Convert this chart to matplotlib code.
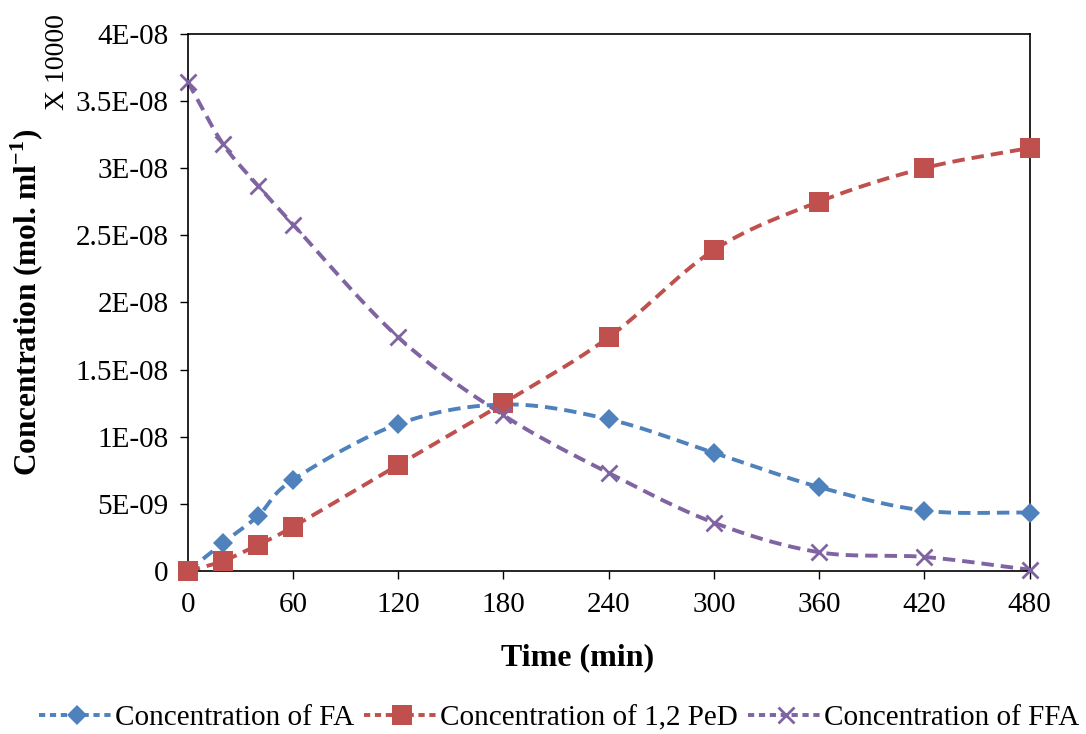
import matplotlib
matplotlib.use("Agg")
import matplotlib.pyplot as plt
from matplotlib.lines import Line2D
import numpy as np

plt.rcParams['font.family'] = ['Liberation Serif', 'DejaVu Serif']
plt.rcParams['mathtext.fontset'] = 'custom'
plt.rcParams['mathtext.rm'] = 'Liberation Serif'
plt.rcParams['mathtext.bf'] = 'Liberation Serif:bold'

# data (mol/ml, already shown as E-08 / E-09)
time_min = [0, 20, 40, 60, 120, 180, 240, 300, 360, 420, 480]
conc_fa = [0.0, 2.1e-9, 4.1e-9, 6.8e-9, 10.95e-9, 12.4e-9, 11.3e-9, 8.8e-9, 6.25e-9, 4.5e-9, 4.35e-9]
conc_ped = [0.0, 0.75e-9, 1.95e-9, 3.3e-9, 7.9e-9, 12.5e-9, 17.4e-9, 23.9e-9, 27.5e-9, 30.0e-9, 31.5e-9]
conc_ffa = [36.4e-9, 31.8e-9, 28.7e-9, 25.8e-9, 17.4e-9, 11.6e-9, 7.3e-9, 3.6e-9, 1.4e-9, 1.05e-9, 0.1e-9]

series_names = ['Concentration of FA', 'Concentration of 1,2 PeD', 'Concentration of FFA']
series_colors = ['#4F81BD', '#C0504D', '#8064A2']
series_markers = ['D', 's', 'x']
series_msize = [10.5, 14, 11]

y_ticks = [0, 5e-9, 1e-8, 1.5e-8, 2e-8, 2.5e-8, 3e-8, 3.5e-8, 4e-8]
y_tick_labels = ['0', '5E-09', '1E-08', '1.5E-08', '2E-08', '2.5E-08', '3E-08', '3.5E-08', '4E-08']
x_ticks = [0, 60, 120, 180, 240, 300, 360, 420, 480]


def smooth(x, y, n=30):
    # excel style smoothed line (catmull-rom through the points)
    x = np.asarray(x, float)
    y = np.asarray(y, float)
    px = np.concatenate([[2 * x[0] - x[1]], x, [2 * x[-1] - x[-2]]])
    py = np.concatenate([[2 * y[0] - y[1]], y, [2 * y[-1] - y[-2]]])
    xs, ys = [], []
    for i in range(1, len(px) - 2):
        t = np.linspace(0, 1, n)
        for p, out in ((px, xs), (py, ys)):
            p0, p1, p2, p3 = p[i - 1], p[i], p[i + 1], p[i + 2]
            out.extend(0.5 * (2 * p1 + (-p0 + p2) * t + (2 * p0 - 5 * p1 + 4 * p2 - p3) * t ** 2
                              + (-p0 + 3 * p1 - 3 * p2 + p3) * t ** 3))
    return np.array(xs), np.array(ys)


fig = plt.figure(figsize=(10.86, 7.34), dpi=100)
ax = fig.add_axes([0.173, 0.222, 0.775, 0.732])

handles = []
for vals, name, col, mk, ms in zip([conc_fa, conc_ped, conc_ffa], series_names,
                                   series_colors, series_markers, series_msize):
    sx, sy = smooth(time_min, vals)
    ax.plot(sx, sy, color=col, lw=2.8, dashes=(3.2, 1.8), clip_on=False, zorder=2)
    mew = 2 if mk == 'x' else 0
    ax.plot(time_min, vals, linestyle='none', marker=mk, ms=ms, color=col,
            mew=mew, clip_on=False, zorder=3)
    handles.append(Line2D([], [], color=col, lw=2.8, dashes=(1.6, 1.2), marker=mk,
                          ms=ms, mew=mew, label=name))

ax.set_xlim(0, 480)
ax.set_ylim(0, 4e-8)
ax.set_xticks(x_ticks)
ax.set_yticks(y_ticks)
ax.set_yticklabels(y_tick_labels)
ax.tick_params(direction='out', length=6, width=1, labelsize=21)
ax.tick_params(axis='x', pad=9)
ax.tick_params(axis='y', pad=8)
for s in ax.spines.values():
    s.set_linewidth(1.2)

ax.set_xlabel('Time (min)', fontsize=23, fontweight='bold')
ax.xaxis.set_label_coords(0.463, -0.135)
ax.set_ylabel(r'Concentration (mol. ml$^{\mathbf{-1}}$)', fontsize=22.5, fontweight='bold')
ax.yaxis.set_label_coords(-0.168, 0.5)
fig.text(0.053, 0.915, 'X 10000', rotation=90, fontsize=20, ha='center', va='center')

fig.legend(handles=handles, loc='center', bbox_to_anchor=(0.515, 0.022), ncol=3,
           frameon=False, fontsize=21, handlelength=2.6, columnspacing=0.35,
           handletextpad=0.0)

fig.savefig('out.png', dpi=100)
